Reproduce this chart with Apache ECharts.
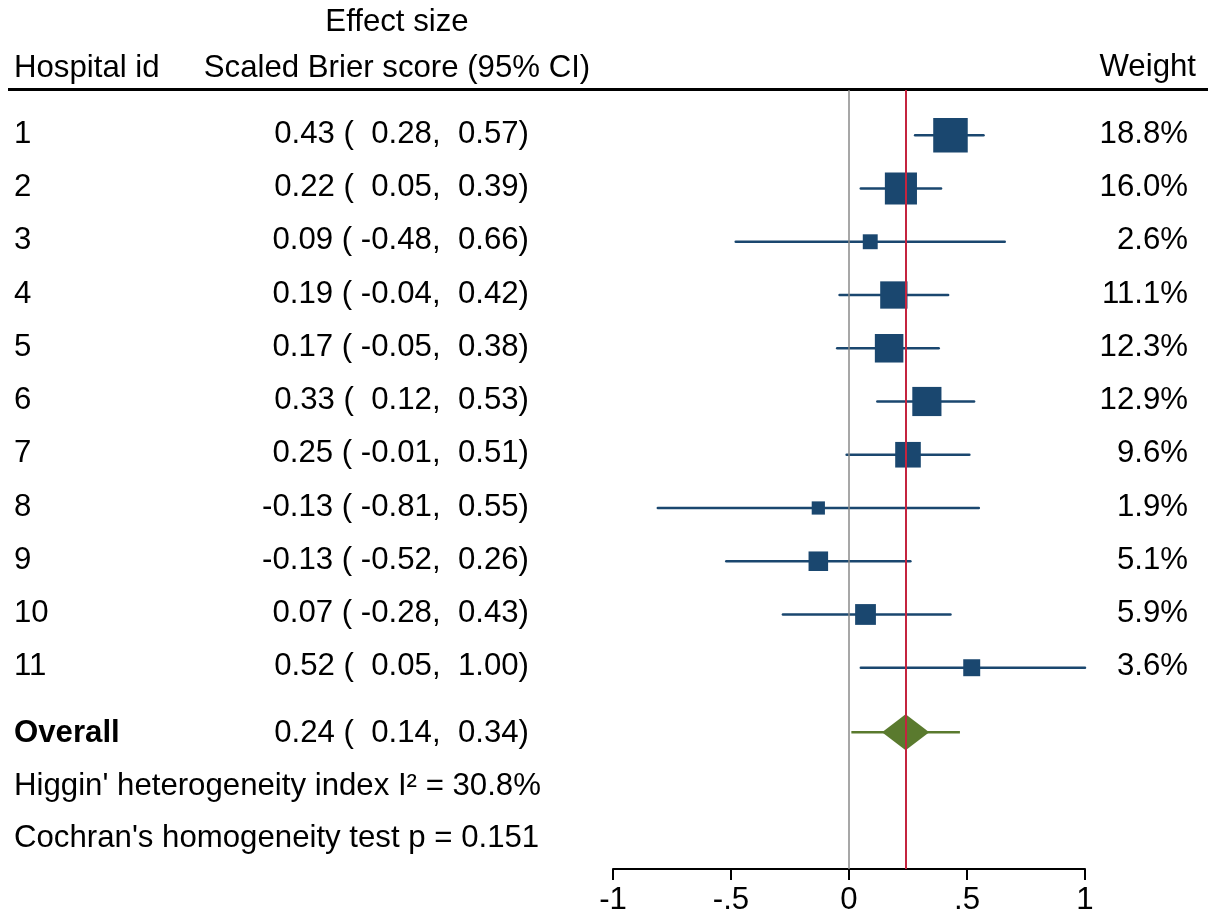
<!DOCTYPE html>
<html>
<head>
<meta charset="utf-8">
<title>Forest plot - Scaled Brier score</title>
<script src="https://cdn.jsdelivr.net/npm/echarts@6/dist/echarts.min.js"></script>
<style>
  html, body { margin: 0; padding: 0; background: #fff; }
  #chart { width: 1208px; height: 916px; }
</style>
</head>
<body>
<div id="chart"></div>
<script>
// study-level results
const hospitals = ['1', '2', '3', '4', '5', '6', '7', '8', '9', '10', '11'];
const estimates = [0.43, 0.22, 0.09, 0.19, 0.17, 0.33, 0.25, -0.13, -0.13, 0.07, 0.52];
const lowerCI = [0.28, 0.05, -0.48, -0.04, -0.05, 0.12, -0.01, -0.81, -0.52, -0.28, 0.05];
const upperCI = [0.57, 0.39, 0.66, 0.42, 0.38, 0.53, 0.51, 0.55, 0.26, 0.43, 1.00];
const weights = [18.8, 16.0, 2.6, 11.1, 12.3, 12.9, 9.6, 1.9, 5.1, 5.9, 3.6];

// pooled estimate, its CI and the prediction interval
const overall = [0.24, 0.14, 0.34];
const predictionInterval = [0.01, 0.47];
const heterogeneityI2 = '30.8%';
const cochranP = '0.151';

const xTicks = [-1, -0.5, 0, 0.5, 1];
const xTickLabels = ['-1', '-.5', '0', '.5', '1'];

const FONT = "'Liberation Sans', Arial, sans-serif";
const FS = 31.2;
const NAVY = '#1a476f';
const OLIVE = '#5a7a2e';

const n = hospitals.length;
const overallRow = n + 1.21;
const statsRows = [n + 2.18, n + 3.15];

function pad(v) {
  return (v < 0 ? '' : ' ') + v.toFixed(2);
}
function ciText(est, lo, hi) {
  return est.toFixed(2) + ' ( ' + pad(lo) + ', ' + pad(hi) + ')';
}
function txt(x, y, text, align, extra) {
  return {
    type: 'text',
    style: Object.assign({
      x: x, y: y, text: text, fill: '#000',
      fontSize: FS, fontFamily: FONT,
      align: align, verticalAlign: 'middle'
    }, extra || {})
  };
}

const chart = echarts.init(document.getElementById('chart'));

chart.setOption({
  animation: false,
  backgroundColor: '#fff',
  grid: { left: 613, right: 123, top: 90, bottom: 42 },
  xAxis: {
    type: 'value',
    min: xTicks[0],
    max: xTicks[xTicks.length - 1],
    interval: 0.5,
    splitLine: { show: false },
    axisLine: { onZero: false, lineStyle: { color: '#000', width: 2 } },
    axisTick: { length: 11, lineStyle: { color: '#000', width: 2 } },
    axisLabel: {
      margin: 16,
      color: '#000',
      fontSize: FS,
      fontFamily: FONT,
      formatter: function (v) {
        const i = xTicks.findIndex(t => Math.abs(t - v) < 1e-9);
        return i >= 0 ? xTickLabels[i] : '';
      }
    }
  },
  yAxis: {
    type: 'value',
    inverse: true,
    min: 0.15,
    max: 14.78,
    show: false
  },
  graphic: [
    { type: 'line', shape: { x1: 8, y1: 89.5, x2: 1208, y2: 89.5 }, style: { stroke: '#000', lineWidth: 3 } },
    txt(397, 22, 'Effect size', 'center'),
    txt(14, 68, 'Hospital id', 'left'),
    txt(397, 68, 'Scaled Brier score (95% CI)', 'center'),
    txt(1196, 67, 'Weight', 'right')
  ].map(g => Object.assign(g, { silent: true })),
  series: [
    {
      // reference lines at zero and at the pooled estimate
      type: 'scatter',
      data: [],
      z: 1,
      markLine: {
        silent: true,
        symbol: 'none',
        label: { show: false },
        data: [
          { xAxis: 0, lineStyle: { color: '#8a8a8a', width: 1.5, type: 'solid' } },
          { xAxis: overall[0], lineStyle: { color: '#c4243f', width: 2, type: 'solid' } }
        ]
      }
    },
    {
      // confidence intervals
      type: 'custom',
      z: 2,
      data: estimates.map((e, i) => [lowerCI[i], upperCI[i], i + 1]),
      renderItem: function (params, api) {
        const a = api.coord([api.value(0), api.value(2)]);
        const b = api.coord([api.value(1), api.value(2)]);
        return {
          type: 'line',
          shape: { x1: a[0], y1: a[1], x2: b[0], y2: b[1] },
          style: { stroke: NAVY, lineWidth: 2.5, lineCap: 'round' }
        };
      }
    },
    {
      // point estimates, box area proportional to weight
      type: 'scatter',
      z: 3,
      symbol: 'rect',
      data: estimates.map((e, i) => [e, i + 1, weights[i]]),
      symbolSize: function (val) {
        return 3.3 + 7.2 * Math.sqrt(val[2]);
      },
      itemStyle: { color: NAVY, opacity: 1 }
    },
    {
      // pooled estimate: prediction interval and diamond
      type: 'custom',
      z: 3,
      data: [[overall[0], overall[1], overall[2], predictionInterval[0], predictionInterval[1], overallRow]],
      renderItem: function (params, api) {
        const row = api.value(5);
        const c = api.coord([api.value(0), row]);
        const lo = api.coord([api.value(1), row]);
        const hi = api.coord([api.value(2), row]);
        const pl = api.coord([api.value(3), row]);
        const ph = api.coord([api.value(4), row]);
        const h = 18;
        return {
          type: 'group',
          children: [
            {
              type: 'line',
              shape: { x1: pl[0], y1: c[1], x2: ph[0], y2: c[1] },
              style: { stroke: OLIVE, lineWidth: 2.5 }
            },
            {
              type: 'polygon',
              shape: { points: [[lo[0], c[1]], [c[0], c[1] - h], [hi[0], c[1]], [c[0], c[1] + h]] },
              style: { fill: OLIVE }
            }
          ]
        };
      }
    },
    {
      // table text: id, effect size with CI, weight
      type: 'custom',
      z: 4,
      silent: true,
      clip: false,
      data: hospitals.map((h, i) => [0, i + 1]),
      renderItem: function (params, api) {
        const i = params.dataIndex;
        const y = api.coord([0, i + 1])[1] - 1;
        return {
          type: 'group',
          children: [
            txt(14, y, hospitals[i], 'left'),
            txt(529, y, ciText(estimates[i], lowerCI[i], upperCI[i]), 'right'),
            txt(1188, y, weights[i].toFixed(1) + '%', 'right')
          ]
        };
      }
    },
    {
      // overall row and heterogeneity statistics
      type: 'custom',
      z: 4,
      silent: true,
      clip: false,
      data: [[0, overallRow]],
      renderItem: function (params, api) {
        const y0 = api.coord([0, overallRow])[1] + 1;
        const y1 = api.coord([0, statsRows[0]])[1] + 3;
        const y2 = api.coord([0, statsRows[1]])[1] + 3;
        return {
          type: 'group',
          children: [
            txt(14, y0, 'Overall', 'left', { fontWeight: 'bold' }),
            txt(529, y0, ciText(overall[0], overall[1], overall[2]), 'right'),
            txt(14, y1, "Higgin' heterogeneity index I\u00b2 = " + heterogeneityI2, 'left'),
            txt(14, y2, "Cochran's homogeneity test p = " + cochranP, 'left')
          ]
        };
      }
    }
  ]
});
</script>
</body>
</html>
